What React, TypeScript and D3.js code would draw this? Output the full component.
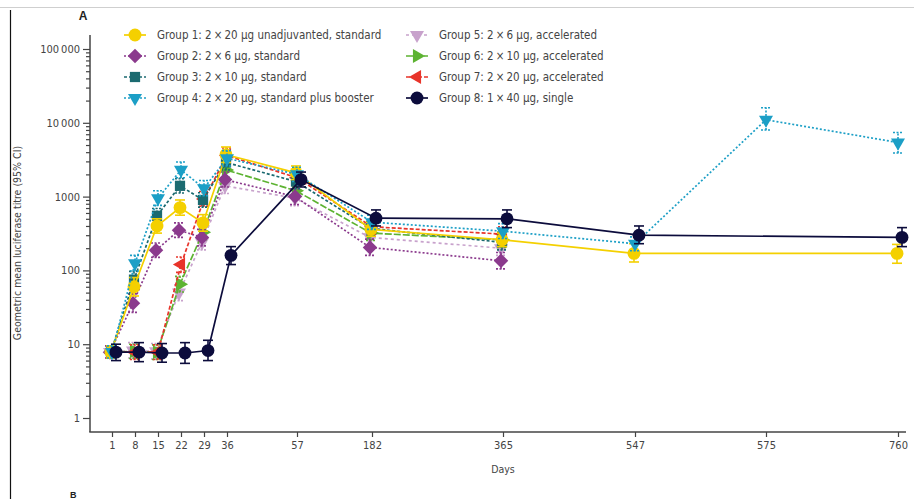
import React, { useEffect, useRef } from "react";
import * as d3 from "d3";

// x axis categories (days) and their tick labels
const dayTicks = [1, 8, 15, 22, 29, 36, 57, 182, 365, 547, 575, 760];
const yMajor = [1, 10, 100, 1000, 10000, 100000];
const yMajorLabels = ["1", "10", "100", "1000", "10\u2009000", "100\u2009000"];

const stdDays = [1, 8, 15, 22, 29, 36, 57, 182, 365];
const longDays = [1, 8, 15, 22, 29, 36, 57, 182, 365, 547, 760];
const boostDays = [1, 8, 15, 22, 29, 36, 57, 182, 365, 547, 575, 760];

const g1Gmt = [7.8, 60, 400, 710, 440, 3700, 2100, 360, 260, 170, 170];
const g1Lo = [6.5, 45, 320, 560, 340, 2900, 1700, 290, 210, 130, 125];
const g1Hi = [9.5, 80, 500, 900, 570, 4700, 2600, 450, 320, 230, 225];

const g2Gmt = [7.8, 36, 187, 350, 280, 1700, 1000, 205, 135];
const g2Lo = [6.5, 27, 150, 280, 215, 1350, 780, 160, 105];
const g2Hi = [9.5, 48, 235, 440, 360, 2150, 1280, 265, 175];

const g3Gmt = [7.8, 75, 550, 1400, 900, 2900, 1600, 370, 240];
const g3Lo = [6.5, 58, 440, 1120, 720, 2300, 1280, 300, 190];
const g3Hi = [9.5, 97, 690, 1750, 1130, 3650, 2000, 460, 300];

const g4Gmt = [7.8, 125, 950, 2300, 1300, 3300, 2000, 450, 340, 230, 11000, 5400];
const g4Lo = [6.5, 98, 760, 1800, 1030, 2600, 1600, 360, 270, 185, 8000, 3900];
const g4Hi = [9.5, 160, 1200, 2950, 1650, 4200, 2500, 560, 430, 285, 16000, 7400];

const g5Gmt = [7.8, 8.2, 8, 50, 240, 1400, 950, 280, 200];
const g5Lo = [6.5, 6.5, 6.3, 39, 190, 1100, 750, 220, 160];
const g5Hi = [9.5, 10.5, 10.2, 64, 300, 1780, 1200, 355, 250];

const g6Gmt = [7.8, 8, 7.8, 65, 330, 2300, 1200, 320, 260];
const g6Lo = [6.5, 6.4, 6.2, 51, 260, 1820, 950, 255, 205];
const g6Hi = [9.5, 10, 9.8, 83, 420, 2900, 1520, 400, 330];

const g7Gmt = [7.8, 7.8, 7.8, 120, 930, 3600, 1800, 390, 310];
const g7Lo = [6.5, 6.2, 6.2, 94, 740, 2850, 1420, 310, 245];
const g7Hi = [9.5, 9.8, 9.8, 152, 1170, 4550, 2280, 490, 390];

const g8Gmt = [7.8, 7.8, 7.6, 7.6, 8.2, 160, 1700, 510, 500, 300, 280];
const g8Lo = [6, 5.8, 5.7, 5.5, 6, 120, 1350, 400, 380, 230, 210];
const g8Hi = [10, 10.5, 10.2, 10.5, 11.3, 210, 2150, 660, 660, 400, 380];

const groups = [
  { name: "Group 1: 2\u2009\u00d7\u200920 \u00b5g unadjuvanted, standard", days: longDays, gmt: g1Gmt, lo: g1Lo, hi: g1Hi, color: "#f4d000", dash: null, shape: "circle", dx: -1 },
  { name: "Group 2: 2\u2009\u00d7\u20096 \u00b5g, standard", days: stdDays, gmt: g2Gmt, lo: g2Lo, hi: g2Hi, color: "#8b3a8d", dash: "2,2", shape: "diamond", dx: -2 },
  { name: "Group 3: 2\u2009\u00d7\u200910 \u00b5g, standard", days: stdDays, gmt: g3Gmt, lo: g3Lo, hi: g3Hi, color: "#1b6a70", dash: "3,2", shape: "square", dx: -1 },
  { name: "Group 4: 2\u2009\u00d7\u200920 \u00b5g, standard plus booster", days: boostDays, gmt: g4Gmt, lo: g4Lo, hi: g4Hi, color: "#1c9fc6", dash: "2,2", shape: "down", dx: 0 },
  { name: "Group 5: 2\u2009\u00d7\u20096 \u00b5g, accelerated", days: stdDays, gmt: g5Gmt, lo: g5Lo, hi: g5Hi, color: "#c8a2cc", dash: "3,3", shape: "down", dx: -2 },
  { name: "Group 6: 2\u2009\u00d7\u200910 \u00b5g, accelerated", days: stdDays, gmt: g6Gmt, lo: g6Lo, hi: g6Hi, color: "#5db332", dash: "7,2", shape: "right", dx: -1 },
  { name: "Group 7: 2\u2009\u00d7\u200920 \u00b5g, accelerated", days: stdDays, gmt: g7Gmt, lo: g7Lo, hi: g7Hi, color: "#e8342a", dash: "4,2", shape: "left", dx: 0 },
  { name: "Group 8: 1\u2009\u00d7\u200940 \u00b5g, single", days: longDays, gmt: g8Gmt, lo: g8Lo, hi: g8Hi, color: "#0c0c3c", dash: null, shape: "circle", dx: 4 },
];

const FONT = "'Liberation Sans Narrow', 'DejaVu Sans Condensed', 'Liberation Sans', sans-serif";

function symbolPath(shape) {
  if (shape === "circle") return { d: d3.symbol(d3.symbolCircle, 130)(), rot: 0 };
  if (shape === "diamond") return { d: d3.symbol(d3.symbolSquare, 105)(), rot: 45 };
  if (shape === "square") return { d: d3.symbol(d3.symbolSquare, 105)(), rot: 0 };
  const tri = d3.symbol(d3.symbolTriangle, 85)();
  if (shape === "down") return { d: tri, rot: 180 };
  if (shape === "right") return { d: tri, rot: 90 };
  return { d: tri, rot: -90 };
}

export default function App() {
  const ref = useRef(null);

  useEffect(() => {
    const svg = d3.select(ref.current);
    svg.selectAll("*").remove();

    const W = 914, H = 499;
    const x = d3.scaleLinear()
      .domain(dayTicks)
      .range([112, 135, 158, 181, 204, 227, 297, 372, 503, 635, 766, 898]);
    const y = d3.scaleLog().domain([1, 100000]).range([418, 49]);

    const axisX0 = 90, axisY0 = 432;

    // panel frame
    svg.append("line").attr("x1", 0).attr("x2", W).attr("y1", 7.5).attr("y2", 7.5)
      .attr("stroke", "#cfcfcf").attr("stroke-width", 1);
    svg.append("line").attr("x1", 10.5).attr("x2", 10.5).attr("y1", 10).attr("y2", H)
      .attr("stroke", "#111").attr("stroke-width", 1.2);
    svg.append("text").attr("x", 83).attr("y", 20).attr("text-anchor", "middle")
      .attr("font-family", "'Liberation Sans', sans-serif").attr("font-weight", "bold")
      .attr("font-size", 12).attr("fill", "#222").text("A");
    svg.append("text").attr("x", 70).attr("y", 498)
      .attr("font-family", "'Liberation Sans', sans-serif").attr("font-weight", "bold")
      .attr("font-size", 9).attr("fill", "#222").text("B");

    // y axis
    const minor = [];
    [1, 10, 100, 1000, 10000].forEach((d) => { for (let k = 2; k <= 9; k++) minor.push(d * k); });
    const gy = svg.append("g").attr("transform", `translate(${axisX0},0)`);
    gy.call(d3.axisLeft(y).tickValues(minor).tickSize(4).tickFormat(() => ""));
    gy.call((g) => g.select(".domain").remove());
    const gyMaj = svg.append("g").attr("transform", `translate(${axisX0},0)`);
    gyMaj.call(d3.axisLeft(y).tickValues(yMajor).tickSize(7).tickPadding(3)
      .tickFormat((d, i) => yMajorLabels[i]));
    gyMaj.call((g) => g.select(".domain").remove());
    [gy, gyMaj].forEach((g) => {
      g.selectAll("line").attr("stroke", "#444").attr("stroke-width", 1.2);
      g.selectAll("text").attr("font-family", FONT).attr("font-size", 11).attr("fill", "#444");
    });
    svg.append("line").attr("x1", axisX0).attr("x2", axisX0).attr("y1", 35).attr("y2", axisY0)
      .attr("stroke", "#444").attr("stroke-width", 1.5);

    // x axis
    const gx = svg.append("g").attr("transform", `translate(0,${axisY0})`);
    gx.call(d3.axisBottom(x).tickValues(dayTicks).tickSize(5).tickPadding(4).tickFormat(d3.format("d")));
    gx.call((g) => g.select(".domain").remove());
    gx.selectAll("line").attr("stroke", "#444").attr("stroke-width", 1.2);
    gx.selectAll("text").attr("font-family", FONT).attr("font-size", 11).attr("fill", "#444");
    svg.append("line").attr("x1", axisX0 - 0.75).attr("x2", 906).attr("y1", axisY0).attr("y2", axisY0)
      .attr("stroke", "#444").attr("stroke-width", 1.5);

    svg.append("text").attr("x", 503).attr("y", 473).attr("text-anchor", "middle")
      .attr("font-family", FONT).attr("font-size", 10.5).attr("fill", "#444").text("Days");
    svg.append("text").attr("transform", "translate(21,243) rotate(-90)").attr("text-anchor", "middle")
      .attr("font-family", FONT).attr("font-size", 10.5).attr("fill", "#444")
      .text("Geometric mean luciferase titre (95% CI)");

    // series
    const line = d3.line().x((d) => d.px).y((d) => y(d.v));
    const order = [4, 5, 6, 1, 2, 0, 3, 7];
    order.forEach((gi) => {
      const s = groups[gi];
      const pts = s.days.map((dd, i) => ({ px: x(dd) + s.dx, v: s.gmt[i], lo: s.lo[i], hi: s.hi[i] }));
      const g = svg.append("g");
      g.append("path").datum(pts).attr("d", line).attr("fill", "none")
        .attr("stroke", s.color).attr("stroke-width", 1.7)
        .attr("stroke-dasharray", s.dash);
      const eb = g.selectAll("g.eb").data(pts).join("g").attr("class", "eb");
      eb.append("line").attr("x1", (d) => d.px).attr("x2", (d) => d.px)
        .attr("y1", (d) => y(d.lo)).attr("y2", (d) => y(d.hi));
      eb.append("line").attr("x1", (d) => d.px - 5).attr("x2", (d) => d.px + 5)
        .attr("y1", (d) => y(d.lo)).attr("y2", (d) => y(d.lo));
      eb.append("line").attr("x1", (d) => d.px - 5).attr("x2", (d) => d.px + 5)
        .attr("y1", (d) => y(d.hi)).attr("y2", (d) => y(d.hi));
      eb.selectAll("line").attr("stroke", s.color).attr("stroke-width", 1.6)
        .attr("stroke-dasharray", s.dash ? "2,1.5" : null);
      const sym = symbolPath(s.shape);
      g.selectAll("path.mk").data(pts).join("path").attr("class", "mk")
        .attr("d", sym.d)
        .attr("transform", (d) => `translate(${d.px},${y(d.v)}) rotate(${sym.rot})`)
        .attr("fill", s.color);
    });

    // legend
    const rows = [35, 56, 77, 98];
    groups.forEach((s, i) => {
      const col = i < 4 ? 0 : 1;
      const cx = col === 0 ? 135 : 417;
      const ty = rows[i % 4];
      const lg = svg.append("g");
      lg.append("line").attr("x1", cx - 11).attr("x2", cx + 11).attr("y1", ty).attr("y2", ty)
        .attr("stroke", s.color).attr("stroke-width", 1.7).attr("stroke-dasharray", s.dash);
      const sym = symbolPath(s.shape);
      lg.append("path").attr("d", sym.d)
        .attr("transform", `translate(${cx},${ty}) rotate(${sym.rot})`).attr("fill", s.color);
      lg.append("text").attr("x", cx + 22).attr("y", ty).attr("dy", "0.35em")
        .attr("font-family", FONT).attr("font-size", 11.5).attr("fill", "#444").text(s.name);
    });
  }, []);

  return (
    <svg ref={ref} width={914} height={499}
      style={{ position: "absolute", left: 0, top: 0, background: "#fff" }} />
  );
}
